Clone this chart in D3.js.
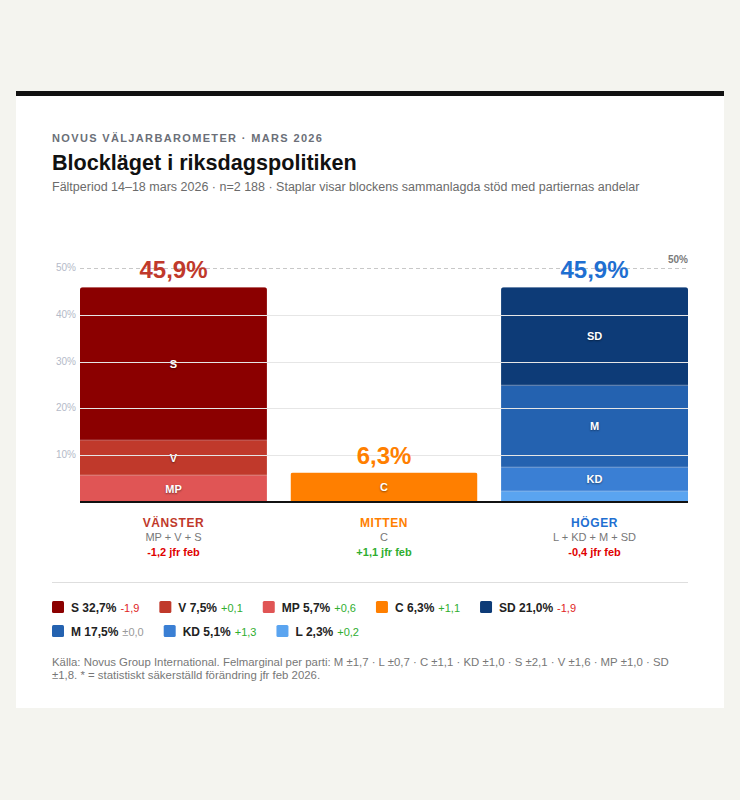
<!DOCTYPE html>
<html>
<head>
<meta charset="utf-8">
<script src="https://cdn.jsdelivr.net/npm/d3@7"></script>
<style>
  body { margin: 0; background: #f4f4ef; font-family: "Liberation Sans", Arial, sans-serif; }
  svg text { font-family: "Liberation Sans", Arial, sans-serif; }
  .seg-label { text-shadow: 0 1px 2px rgba(0,0,0,0.45); }
</style>
</head>
<body>
<script>
// blocks
const blocks = ["Vänster", "Mitten", "Höger"];
const blockNames = ["VÄNSTER", "MITTEN", "HÖGER"];
const blockParties = ["MP + V + S", "C", "L + KD + M + SD"];
const blockChange = [-1.2, 1.1, -0.4];
const blockColors = ["#c0392b", "#ff7f00", "#1f6fd1"];

// parties (legend order, top of stack first within each block)
const parties = ["S", "V", "MP", "C", "SD", "M", "KD", "L"];
const partyBlock = ["Vänster", "Vänster", "Vänster", "Mitten", "Höger", "Höger", "Höger", "Höger"];
const partyValues = [32.7, 7.5, 5.7, 6.3, 21.0, 17.5, 5.1, 2.3];
const partyChange = [-1.9, 0.1, 0.6, 1.1, -1.9, 0.0, 1.3, 0.2];
const partyColors = ["#8b0000", "#c0392b", "#e05555", "#ff7f00", "#0d3b77", "#2462b0", "#3a7fd4", "#5aa4f0"];

const yTicks = [10, 20, 30, 40, 50];
const footer = [
  "Källa: Novus Group International. Felmarginal per parti: M ±1,7 · L ±0,7 · C ±1,1 · KD ±1,0 · S ±2,1 · V ±1,6 · MP ±1,0 · SD",
  "±1,8. * = statistiskt säkerställd förändring jfr feb 2026."
];

const sv = d3.formatLocale({ decimal: ",", thousands: "\u00a0", grouping: [3], currency: ["", " kr"], minus: "-" });
const f1 = sv.format(".1f");
const fmtChange = v => v === 0 ? "±" + f1(0) : (v > 0 ? "+" : "") + f1(v);
const changeColor = v => v === 0 ? "#9a9a9a" : (v > 0 ? "#2fae2f" : "#e02424");

const W = 740, H = 800;
const svg = d3.select("body").append("svg").attr("width", W).attr("height", H);

// card
svg.append("rect").attr("x", 16).attr("y", 91).attr("width", 708).attr("height", 617).attr("fill", "#fff");
svg.append("rect").attr("x", 16).attr("y", 91).attr("width", 708).attr("height", 5).attr("fill", "#111");

// header
svg.append("text").attr("x", 52).attr("y", 142).text("NOVUS VÄLJARBAROMETER · MARS 2026")
  .attr("font-size", 11).attr("font-weight", "bold").attr("letter-spacing", 1.35).attr("fill", "#6b6f78");
svg.append("text").attr("x", 52).attr("y", 170).text("Blockläget i riksdagspolitiken")
  .attr("font-size", 21.6).attr("font-weight", "bold").attr("fill", "#111");
svg.append("text").attr("x", 52).attr("y", 191).text("Fältperiod 14–18 mars 2026 · n=2 188 · Staplar visar blockens sammanlagda stöd med partiernas andelar")
  .attr("font-size", 12.5).attr("fill", "#6b6b6b");

// scales
const x = d3.scaleBand().domain(blocks).range([80, 688]).paddingInner(0.112).paddingOuter(0);
const y = d3.scaleLinear().domain([0, 50]).range([502, 268]);

// stacked segments
const segs = [];
blocks.forEach(b => {
  let base = 0;
  const idx = parties.map((p, i) => i).filter(i => partyBlock[i] === b).reverse();
  idx.forEach(i => {
    segs.push({ party: parties[i], block: b, y0: base, y1: base + partyValues[i], color: partyColors[i], value: partyValues[i] });
    base += partyValues[i];
  });
});
const totals = blocks.map(b => d3.sum(segs.filter(s => s.block === b), s => s.value));

const chart = svg.append("g");
const clipDefs = svg.append("defs");
blocks.forEach((b, i) => {
  clipDefs.append("clipPath").attr("id", "clip" + i)
    .append("rect").attr("x", x(b)).attr("y", y(totals[i])).attr("width", x.bandwidth())
    .attr("height", y(0) - y(totals[i]) + 4).attr("rx", 2.5);
});

chart.selectAll("rect.seg").data(segs).enter().append("rect")
  .attr("class", "seg")
  .attr("clip-path", d => "url(#clip" + blocks.indexOf(d.block) + ")")
  .attr("x", d => x(d.block))
  .attr("y", d => y(d.y1))
  .attr("width", x.bandwidth())
  .attr("height", d => y(d.y0) - y(d.y1))
  .attr("fill", d => d.color);

// thin separators between segments
chart.selectAll("line.sep").data(segs.filter(d => d.y0 > 0)).enter().append("line")
  .attr("x1", d => x(d.block)).attr("x2", d => x(d.block) + x.bandwidth())
  .attr("y1", d => y(d.y0) - 0.5).attr("y2", d => y(d.y0) - 0.5)
  .attr("stroke", "rgba(255,255,255,0.18)").attr("stroke-width", 1);

// gridlines on top
const grid = svg.append("g");
grid.selectAll("line").data(yTicks.filter(t => t < 50)).enter().append("line")
  .attr("x1", 80).attr("x2", 688)
  .attr("y1", d => Math.round(y(d)) + 0.5).attr("y2", d => Math.round(y(d)) + 0.5)
  .attr("stroke", "#e6e6e6").attr("stroke-width", 1);
grid.append("line").attr("x1", 80).attr("x2", 688)
  .attr("y1", Math.round(y(50)) + 0.5).attr("y2", Math.round(y(50)) + 0.5)
  .attr("stroke", "#c8c8c8").attr("stroke-dasharray", "4,3");
grid.selectAll("text").data(yTicks).enter().append("text")
  .attr("x", 76).attr("y", d => y(d) + 3).attr("text-anchor", "end")
  .attr("font-size", 10).attr("fill", "#b4bac8").text(d => d + "%");
svg.append("text").attr("x", 688).attr("y", 263).attr("text-anchor", "end")
  .attr("font-size", 10).attr("font-weight", "bold").attr("fill", "#7a7a7a").text("50%");

// segment labels
chart.selectAll("text.seg-label").data(segs.filter(d => d.value >= 4)).enter().append("text")
  .attr("class", "seg-label")
  .attr("x", d => x(d.block) + x.bandwidth() / 2)
  .attr("y", d => y((d.y0 + d.y1) / 2) + 4)
  .attr("text-anchor", "middle").attr("font-size", 11).attr("font-weight", "bold")
  .attr("fill", "#fff").text(d => d.party);

// baseline
svg.append("line").attr("x1", 80).attr("x2", 688).attr("y1", 502).attr("y2", 502)
  .attr("stroke", "#111").attr("stroke-width", 2);

// totals
svg.selectAll("text.total").data(blocks).enter().append("text")
  .attr("x", b => x(b) + x.bandwidth() / 2)
  .attr("y", (b, i) => y(totals[i]) - 9)
  .attr("text-anchor", "middle").attr("font-size", 24).attr("font-weight", "bold")
  .attr("fill", (b, i) => blockColors[i]).text((b, i) => f1(totals[i]) + "%");

// block labels under bars
const under = svg.selectAll("g.under").data(blocks).enter().append("g")
  .attr("transform", b => `translate(${x(b) + x.bandwidth() / 2},0)`);
under.append("text").attr("y", 527).attr("text-anchor", "middle").attr("font-size", 12)
  .attr("font-weight", "bold").attr("letter-spacing", 0.6)
  .attr("fill", (b, i) => blockColors[i]).text((b, i) => blockNames[i]);
under.append("text").attr("y", 541).attr("text-anchor", "middle").attr("font-size", 11)
  .attr("fill", "#777").text((b, i) => blockParties[i]);
under.append("text").attr("y", 556).attr("text-anchor", "middle").attr("font-size", 11)
  .attr("font-weight", "bold").attr("fill", (b, i) => blockChange[i] > 0 ? "#2fae2f" : "#e00000")
  .text((b, i) => fmtChange(blockChange[i]) + " jfr feb");

// divider
svg.append("line").attr("x1", 52).attr("x2", 688).attr("y1", 582.5).attr("y2", 582.5)
  .attr("stroke", "#dedede");

// legend
const rows = [[0, 1, 2, 3, 4], [5, 6, 7]];
rows.forEach((row, r) => {
  let cx = 52;
  const cy = 607 + r * 24;
  row.forEach(i => {
    const g = svg.append("g").attr("transform", `translate(${cx},${cy})`);
    g.append("rect").attr("x", 0).attr("y", -6).attr("width", 12).attr("height", 12)
      .attr("rx", 1.5).attr("fill", partyColors[i]);
    const t1 = g.append("text").attr("x", 19).attr("y", 4.5).attr("font-size", 12)
      .attr("font-weight", "bold").attr("fill", "#222").text(parties[i] + " " + f1(partyValues[i]) + "%");
    const w1 = t1.node().getComputedTextLength();
    const t2 = g.append("text").attr("x", 19 + w1 + 4).attr("y", 4.5).attr("font-size", 11)
      .attr("fill", changeColor(partyChange[i])).text(fmtChange(partyChange[i]));
    const w2 = t2.node().getComputedTextLength();
    cx += 19 + w1 + 4 + w2 + 20;
  });
});

// footer
svg.selectAll("text.foot").data(footer).enter().append("text")
  .attr("x", 52).attr("y", (d, i) => 666 + i * 13)
  .attr("font-size", 11.4).attr("fill", "#777").text(d => d);
</script>
</body>
</html>
